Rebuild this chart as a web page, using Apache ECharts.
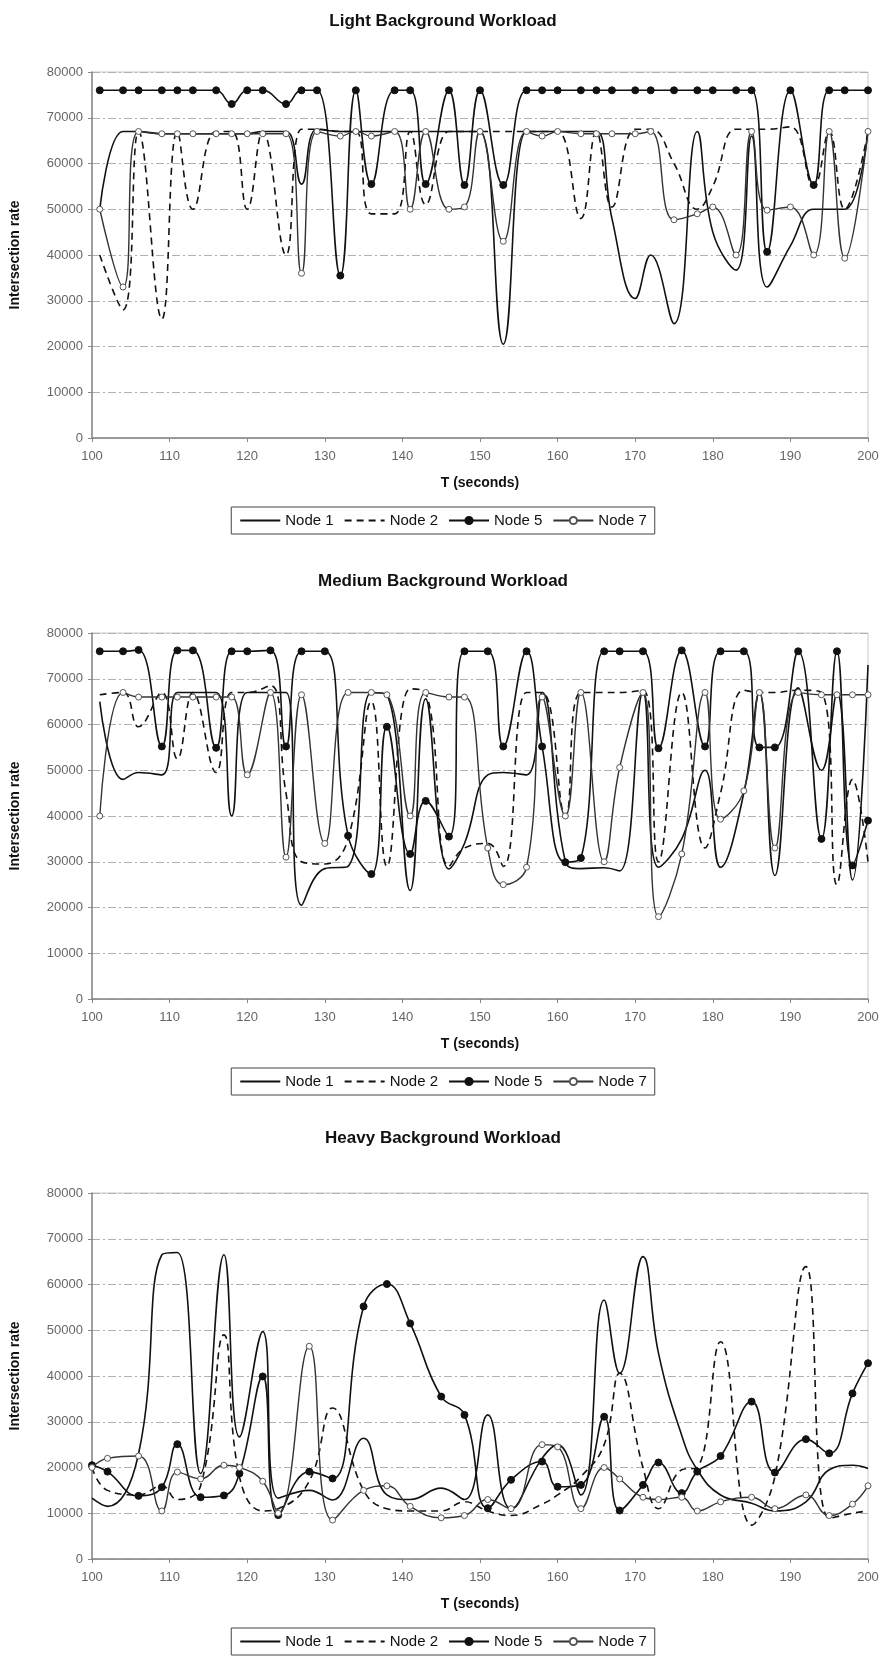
<!DOCTYPE html>
<html><head><meta charset="utf-8">
<script src="https://cdn.jsdelivr.net/npm/echarts@6/dist/echarts.min.js"></script>
<style>html,body{margin:0;padding:0;background:#fff}#c{width:886px;height:1657px}</style>
</head><body><div id="c"></div>
<script>
const titles = ['Light Background Workload','Medium Background Workload','Heavy Background Workload'];
const seriesNames = ['Node 1','Node 2','Node 5','Node 7'];
const xLabelName = 'T (seconds)';
const yLabelName = 'Intersection rate';

// ---- Light workload ----
const lightT = [101,104,106,109,111,113,116,118,120,122,125,127,129,132,134,136,139,141,143,146,148,150,153,156,158,160,163,165,167,170,172,175,178,180,183,185,187,190,193,195,197,200];
const lightNode1 = [50000,67000,67000,66500,66500,66500,66500,66500,66500,67000,67000,55500,67500,67000,67000,67000,67000,67000,67000,67000,67000,67000,20500,67000,67000,67000,67000,67000,48000,30500,40000,25000,67000,45000,36700,66000,33000,42000,50000,50000,50000,67000];
const lightNode2 = [40000,28000,67000,26000,67000,50000,67000,67000,50000,67000,40000,67500,67500,67000,67000,49000,49000,67000,51000,67000,67000,67000,67000,67000,67000,67000,48000,67000,50500,67500,67500,60000,50000,55000,67500,67500,67500,68000,55000,67000,50000,67000];
const lightNode5 = [76000,76000,76000,76000,76000,76000,76000,73000,76000,76000,73000,76000,76000,35500,76000,55500,76000,76000,55500,76000,55300,76000,55300,76000,76000,76000,76000,76000,76000,76000,76000,76000,76000,76000,76000,76000,40700,76000,55300,76000,76000,76000];
const lightNode7 = [50000,33000,67000,66500,66500,66500,66500,66500,66500,66500,66500,36000,67000,66000,67000,66000,67000,50000,67000,50000,50500,67000,43000,67000,66000,67000,66500,66500,66500,66500,67000,47700,49000,50500,40000,67000,49800,50500,40000,67000,39300,67000];

// ---- Medium workload ----
const mediumT = [101,104,106,109,111,113,116,118,120,123,125,127,130,133,136,138,141,143,146,148,151,153,156,158,161,163,166,168,171,173,176,179,181,184,186,188,191,194,196,198,200];
const mediumNode1 = [65000,48000,49500,49000,67000,67000,67000,40000,67000,67000,67000,20500,28500,29000,67000,66500,23700,65600,28400,34000,49000,49500,49000,67000,30000,28500,28700,28000,67000,28800,35000,50000,28800,45000,67000,27000,68000,50000,67000,26000,73000];
const mediumNode2 = [66500,67000,59500,67000,52500,67000,49500,67000,67000,68500,45000,30000,29500,35000,65000,29000,67800,67000,29000,33000,34000,29000,67000,67000,40000,67000,67000,67000,67500,30000,67000,33000,45000,67500,67000,67000,67500,67000,25000,48000,30000];
const mediumNode5 = [76000,76000,76300,55200,76200,76200,54900,76000,76000,76200,55200,76000,76000,35700,27300,59500,31700,43300,35500,76000,76000,55200,76000,55200,29900,30800,76000,76000,76000,54800,76200,55200,76000,76000,55000,55000,76000,35000,76000,29200,39000];
const mediumNode7 = [40000,67000,66000,66000,66000,66000,66000,66000,49000,67000,31000,66500,34000,67000,67000,66500,40000,67000,66000,66000,33000,25000,28800,66000,40000,67000,30000,50600,67000,18000,31700,67000,39300,45500,67000,33000,67000,66500,66500,66500,66500];

// ---- Heavy workload ----
const heavyT = [100,102,106,109,111,114,117,119,122,124,128,131,135,138,141,145,148,151,154,158,160,163,166,168,171,173,176,178,181,185,188,192,195,198,200];
const heavyNode1 = [13300,11500,23000,66500,67000,18700,66500,26700,49700,13300,15000,12900,26400,14000,13000,15500,13000,31500,11000,22000,25000,14000,56600,40600,66100,45000,27000,19500,14000,12200,10500,12500,19500,20500,19800];
const heavyNode2 = [20000,15000,14000,16000,13000,16000,49000,18000,10500,11000,17000,33000,15000,11000,10500,10500,12500,10500,9500,12000,14000,18000,25000,40600,20000,11000,19500,20000,47500,7400,18000,63900,8900,10000,10500];
const heavyNode5 = [20500,19100,13800,15700,25100,13500,13900,18700,39900,9600,19100,17600,55200,60100,51500,35500,31500,11100,17300,21300,15800,16200,31100,10600,16200,21100,14400,19100,22500,34400,18900,26200,23100,36200,42800];
const heavyNode7 = [20000,22000,22500,10500,19000,17500,20500,20000,17000,10000,46500,8500,15000,16000,11500,9000,9500,13000,11000,25000,24500,11000,20000,17500,13500,13000,13500,10500,12500,13500,11000,14000,9500,12000,16000];

const panels = [
  {t: lightT, v: [lightNode1, lightNode2, lightNode5, lightNode7]},
  {t: mediumT, v: [mediumNode1, mediumNode2, mediumNode5, mediumNode7]},
  {t: heavyT, v: [heavyNode1, heavyNode2, heavyNode5, heavyNode7]}
];

const gridTops = [72, 633, 1193];
const titleTops = [13, 573, 1130];
const H = 366;
const FONT = 'Liberation Sans, Arial, sans-serif';

function zip(t, v){ return t.map((x,i)=>[x, v[i]]); }

const styles = [
  {lineStyle:{color:'#111', width:1.6, type:'solid'}, symbol:'none', itemStyle:{color:'rgba(0,0,0,0)'}},
  {lineStyle:{color:'#111', width:1.6, type:[7,5]}, symbol:'none', itemStyle:{color:'rgba(0,0,0,0)'}},
  {lineStyle:{color:'#111', width:1.6, type:'solid'}, symbol:'circle', symbolSize:7, itemStyle:{color:'#111', borderColor:'#111', borderWidth:1}},
  {lineStyle:{color:'#333', width:1.4, type:'solid'}, symbol:'circle', symbolSize:6, itemStyle:{color:'#fff', borderColor:'#555', borderWidth:1}}
];

const series = [];
panels.forEach((p, gi) => {
  p.v.forEach((vals, si) => {
    series.push(Object.assign({
      type:'line', name: seriesNames[si], xAxisIndex: gi, yAxisIndex: gi,
      data: zip(p.t, vals), smooth: 0.45, showSymbol: si >= 2, z: 3 + si,
      emphasis:{disabled:true}
    }, JSON.parse(JSON.stringify(styles[si]))));
  });
});

const option = {
  animation: false,
  backgroundColor: '#fff',
  title: titles.map((t,i)=>({
    text: t, left: 'center', top: titleTops[i], padding: 0,
    textStyle: {fontFamily: FONT, fontSize: 17, fontWeight: 'bold', color: '#111'}
  })),
  legend: gridTops.map((t,i)=>({
    data: seriesNames, left: 'center', top: t + H + 69,
    orient: 'horizontal', borderColor: '#444', borderWidth: 1,
    padding: [6, 8, 6, 8], itemGap: 10, itemWidth: 40, itemHeight: 9,
    selectedMode: false,
    textStyle: {fontFamily: FONT, fontSize: 15, color: '#111'}
  })),
  grid: gridTops.map(t=>({left: 92, right: 18, top: t, height: H, show: true, borderColor: '#c8c8c8', borderWidth: 1, containLabel: false})),
  xAxis: gridTops.map((t,i)=>({
    type: 'value', gridIndex: i, min: 100, max: 200, interval: 10,
    name: xLabelName, nameLocation: 'middle', nameGap: 38,
    nameTextStyle: {fontFamily: FONT, fontSize: 14, fontWeight: 'bold', color: '#111'},
    axisLine: {lineStyle: {color: '#888', width: 1.5}},
    axisTick: {show: true, length: 4, lineStyle: {color: '#888'}},
    axisLabel: {fontFamily: FONT, fontSize: 13, color: '#666', margin: 12},
    splitLine: {show: false}
  })),
  yAxis: gridTops.map((t,i)=>({
    type: 'value', gridIndex: i, min: 0, max: 80000, interval: 10000,
    name: yLabelName, nameLocation: 'middle', nameGap: 70, nameRotate: 90,
    nameTextStyle: {fontFamily: FONT, fontSize: 14, fontWeight: 'bold', color: '#111'},
    axisLine: {show: true, lineStyle: {color: '#888', width: 1.5}},
    axisTick: {show: true, length: 4, lineStyle: {color: '#888'}},
    axisLabel: {fontFamily: FONT, fontSize: 13, color: '#666', margin: 9, formatter: v => String(v)},
    splitLine: {show: true, lineStyle: {color: '#b0b0b0', type: [8,3,2,3], width: 1}}
  })),
  series: series
};
const chart = echarts.init(document.getElementById('c'), null, {renderer: 'canvas'});
chart.setOption(option);
</script></body></html>
